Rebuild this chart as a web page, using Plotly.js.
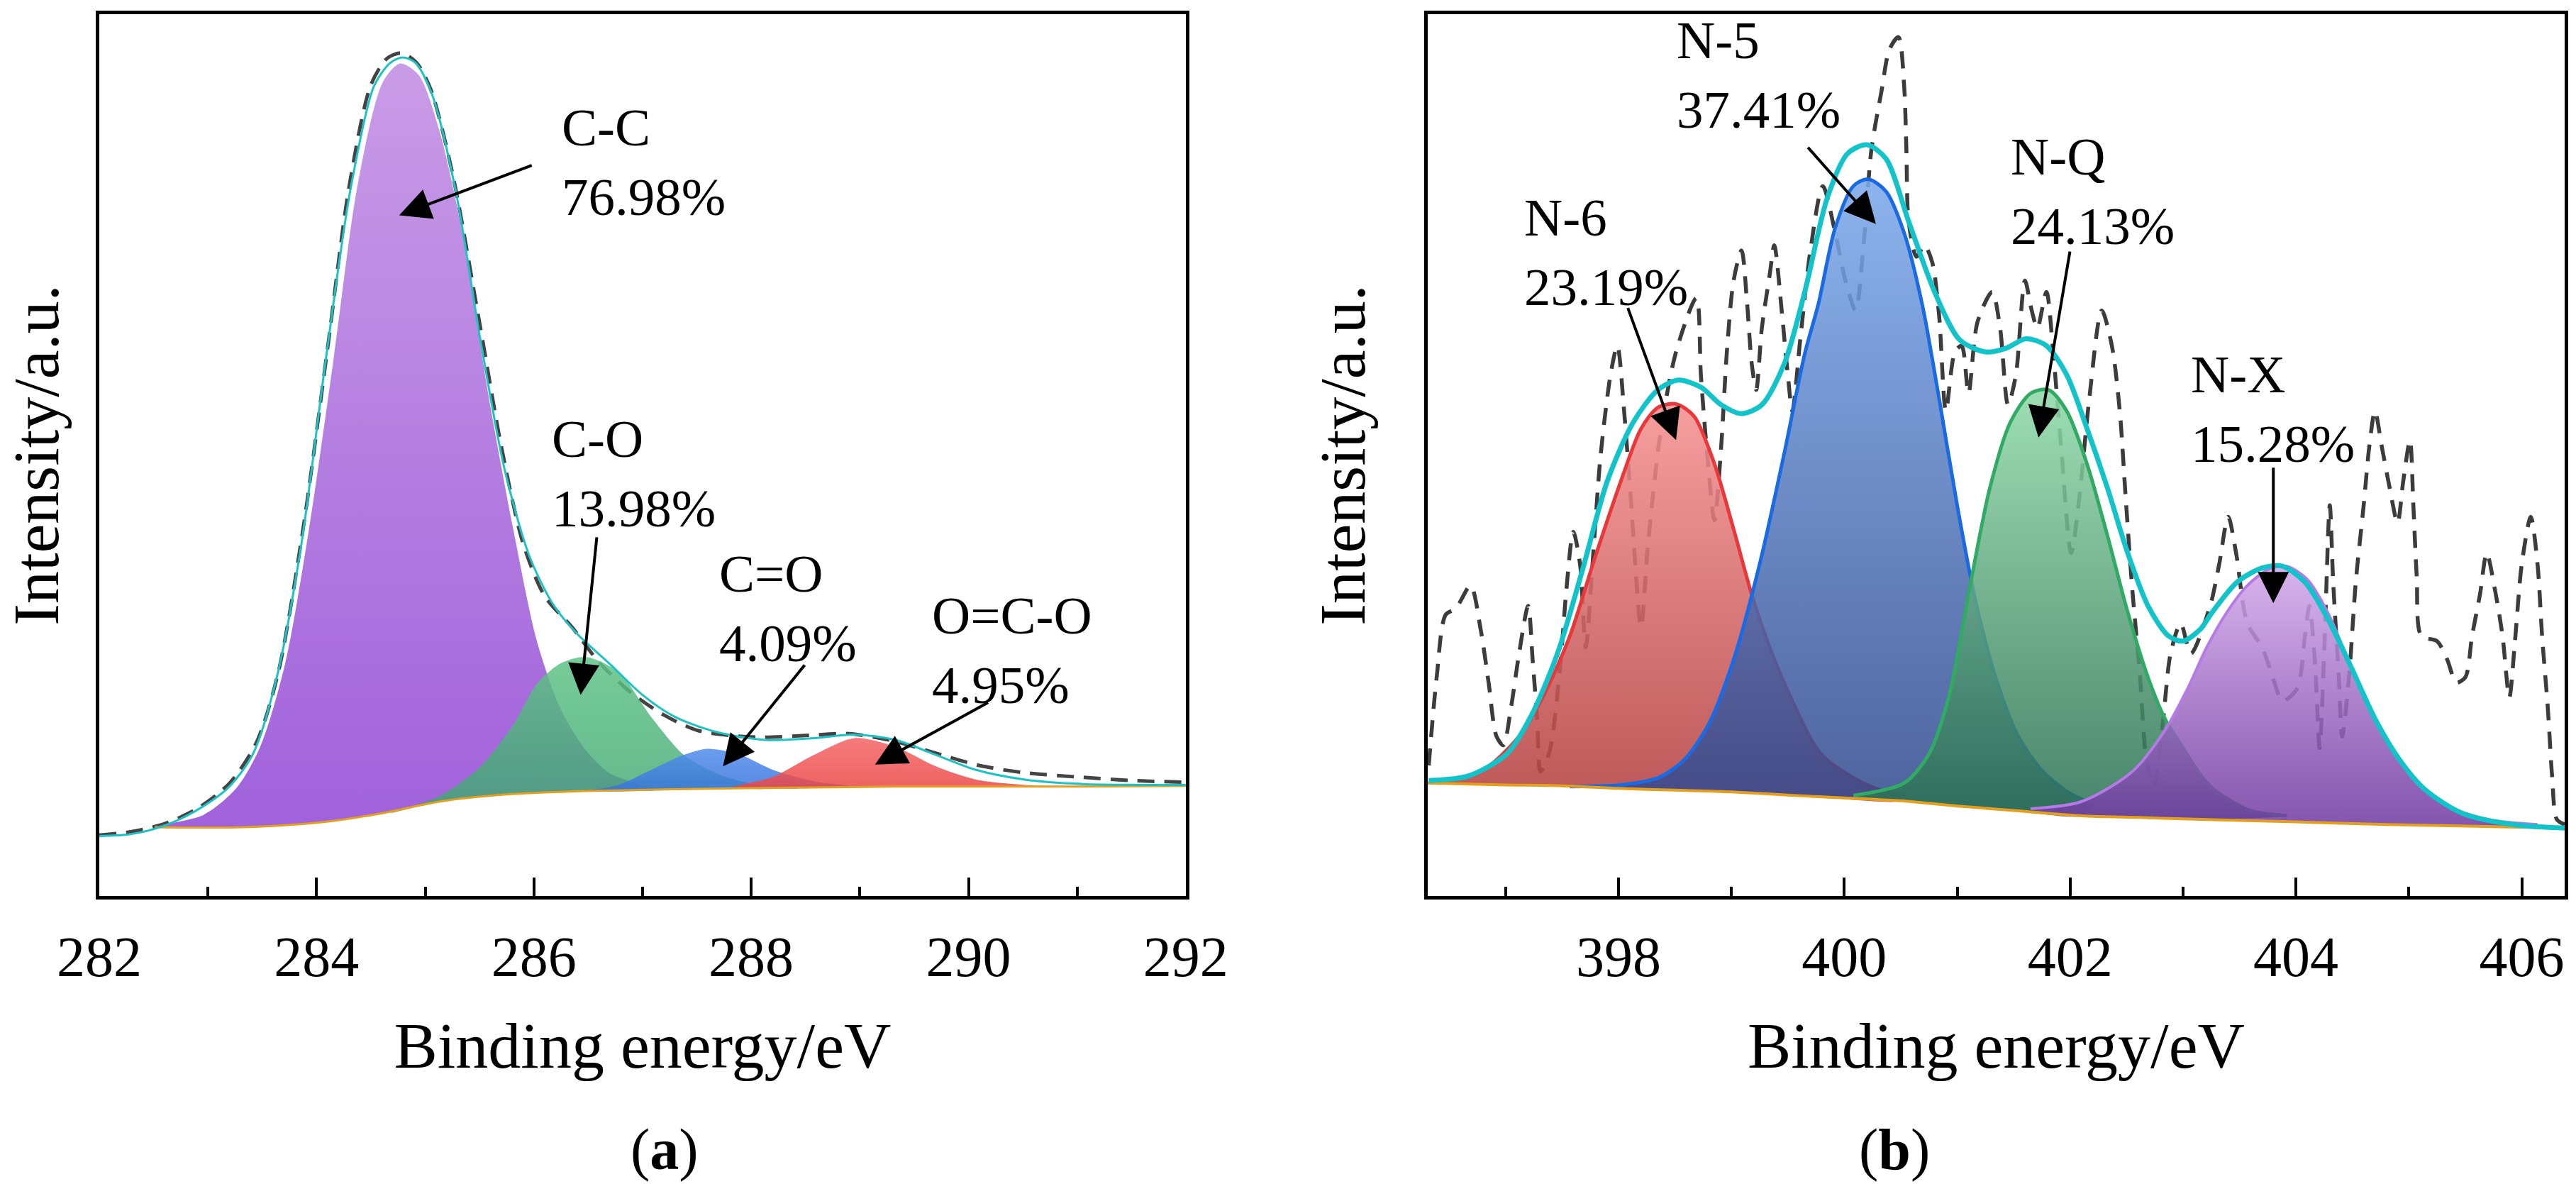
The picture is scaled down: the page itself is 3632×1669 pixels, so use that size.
<!DOCTYPE html>
<html>
<head>
<meta charset="utf-8">
<script src="https://cdn.plot.ly/plotly-3.0.1.min.js"></script>
<style>
  html, body { margin: 0; padding: 0; background: #fff; }
  #chart { width: 3632px; height: 1669px; }
</style>
</head>
<body>
<div id="chart"></div>
<script>
// ---- (a) C 1s ----
var cRawX = [282.0, 282.3, 282.6, 282.9, 283.2, 283.45, 283.65, 283.88, 284.1, 284.3, 284.5, 284.65, 284.78, 284.92, 285.05, 285.25, 285.5, 285.7, 285.9, 286.1, 286.35, 286.6, 286.9, 287.2, 287.5, 287.8, 288.1, 288.5, 288.9, 289.3, 289.7, 290.1, 290.5, 291.0, 291.5, 292.0];
var cRawY = [6.9, 7.3, 8.2, 9.9, 12.8, 17.5, 25.5, 42.0, 62.0, 80.5, 92.0, 95.0, 95.6, 94.5, 91.5, 82.0, 65.0, 51.0, 40.0, 34.0, 30.5, 26.5, 23.0, 20.5, 18.8, 18.2, 18.0, 18.2, 18.4, 17.6, 16.2, 14.8, 14.0, 13.5, 13.1, 12.9];

var cEnvX = [282.0, 282.28, 282.58, 282.88, 283.18, 283.41, 283.63, 283.86, 284.08, 284.31, 284.53, 284.68, 284.79, 284.91, 285.06, 285.28, 285.51, 285.73, 285.96, 286.18, 286.40, 286.70, 287.00, 287.30, 287.68, 288.13, 288.58, 288.95, 289.33, 289.70, 290.07, 290.52, 291.05, 291.57, 292.0];
var cEnvY = [6.8, 7.0, 7.9, 9.6, 12.2, 16.0, 24.6, 39.9, 60.4, 80.0, 91.9, 94.5, 95.1, 94.5, 91.0, 80.0, 62.9, 48.4, 38.5, 33.0, 29.7, 26.3, 22.8, 20.3, 18.6, 17.7, 17.9, 18.3, 17.7, 16.0, 14.3, 13.2, 12.7, 12.6, 12.6];

var cBaseX = [282.51, 283.33, 284.08, 284.61, 285.13, 285.73, 286.48, 287.83, 289.33, 290.82, 292.0];
var cBaseY = [7.8, 7.8, 8.4, 9.4, 10.7, 11.5, 11.9, 12.2, 12.4, 12.4, 12.5];

var ccX = [282.51, 282.96, 283.26, 283.48, 283.71, 283.93, 284.16, 284.38, 284.61, 284.77, 284.94, 285.13, 285.36, 285.58, 285.81, 286.03, 286.25, 286.48, 286.70, 287.0];
var ccY = [7.8, 9.2, 12.2, 16.9, 26.3, 41.6, 61.2, 80.8, 92.3, 94.4, 93.1, 86.8, 74.0, 56.9, 41.6, 28.8, 21.1, 16.5, 13.9, 12.4];

var coX = [284.68, 285.13, 285.51, 285.81, 286.03, 286.25, 286.48, 286.78, 287.08, 287.38, 287.68, 287.98, 288.43];
var coY = [9.4, 11.3, 14.7, 19.4, 24.1, 26.4, 27.1, 25.4, 20.3, 16.0, 13.9, 12.8, 12.2];

var cdX = [286.48, 286.78, 287.08, 287.38, 287.60, 287.90, 288.20, 288.58, 288.95];
var cdY = [11.9, 12.6, 14.3, 16.0, 16.7, 16.0, 14.3, 13.0, 12.4];

var ocX = [287.83, 288.20, 288.58, 288.95, 289.33, 289.70, 290.07, 290.52, 290.82];
var ocY = [12.3, 13.5, 16.0, 17.9, 16.9, 14.7, 13.2, 12.6, 12.4];

// ---- (b) N 1s ----
var nRawX = [396.32, 396.39, 396.47, 396.56, 396.69, 396.78, 396.85, 396.92, 396.98, 397.05, 397.12, 397.20, 397.24, 397.28, 397.31, 397.39, 397.48, 397.54, 397.60, 397.66, 397.71, 397.77, 397.84, 397.93, 397.99, 398.05, 398.11, 398.20, 398.26, 398.37, 398.51, 398.69, 398.73, 398.78, 398.85, 398.91, 398.96, 399.02, 399.09, 399.14, 399.18, 399.22, 399.27, 399.34, 399.38, 399.45, 399.50, 399.54, 399.61, 399.70,
  399.81, 399.92, 400.01, 400.10, 400.17, 400.24, 400.33, 400.40, 400.48, 400.53, 400.55, 400.57, 400.64, 400.71, 400.78, 400.84, 400.90, 400.98, 401.04, 401.10, 401.18, 401.31, 401.38, 401.45, 401.52, 401.60, 401.66, 401.71, 401.79, 401.85, 401.92, 402.01, 402.08, 402.17, 402.28, 402.37, 402.44, 402.49, 402.55, 402.62, 402.67, 402.74, 402.82, 402.89, 402.98, 403.07,
  403.24, 403.32, 403.40, 403.47, 403.57, 403.70, 403.81, 403.88, 404.01, 404.08, 404.12, 404.17, 404.21, 404.25, 404.30, 404.33, 404.38, 404.41, 404.47, 404.53, 404.60, 404.65, 404.70, 404.76, 404.83, 404.90, 404.95, 405.01, 405.04, 405.07, 405.11, 405.25, 405.34, 405.42, 405.50, 405.56, 405.63, 405.69, 405.76, 405.83, 405.89, 405.94, 406.00, 406.08, 406.14, 406.18, 406.23, 406.27, 406.31, 406.38];
var nRawY = [14.8, 24.8, 31.9, 32.6, 35.2, 30.2, 24.2, 18.1, 17.1, 21.5, 27.5, 32.9, 26.8, 20.1, 14.1, 16.4, 25.5, 34.9, 41.3, 37.6, 28.2, 37.6, 49.7, 59.1, 62.4, 55.0, 45.0, 30.5, 39.6, 52.3, 61.7, 67.8, 59.1, 51.0, 42.6, 51.0, 61.7, 69.8, 73.2, 67.1, 60.4, 57.4, 64.4, 70.5, 73.8, 65.8, 59.1, 55.0, 63.1, 73.2,
  80.5, 75.2, 69.8, 66.4, 73.8, 84.6, 91.3, 96.0, 97.4, 91.9, 84.6, 76.5, 72.5, 73.8, 71.8, 65.8, 55.0, 61.7, 62.4, 57.0, 65.1, 68.5, 64.4, 55.7, 59.1, 69.8, 66.4, 64.4, 68.5, 61.7, 51.0, 38.9, 45.0, 56.4, 66.4, 62.4, 55.0, 45.6, 34.9, 24.8, 16.1, 12.4, 19.5, 27.5, 30.9, 27.5,
  32.9, 37.6, 43.0, 38.9, 30.9, 28.2, 24.2, 22.1, 23.5, 29.5, 32.9, 26.2, 16.8, 27.5, 44.3, 35.6, 24.8, 18.1, 24.8, 35.6, 44.3, 51.0, 55.0, 51.0, 46.3, 42.3, 47.0, 51.7, 44.3, 36.2, 29.5, 28.9, 26.8, 24.2, 24.8, 29.5, 34.2, 38.9, 34.9, 29.5, 22.5, 28.9, 37.6, 43.0, 37.6, 29.5, 21.5, 13.4, 8.7, 8.1];

var nEnvX = [396.32, 396.67, 397.01, 397.23, 397.46, 397.68, 397.90, 398.13, 398.35, 398.53, 398.73, 398.91, 399.09, 399.27, 399.47, 399.65, 399.85, 400.03, 400.20, 400.37, 400.57, 400.80, 401.02, 401.25, 401.43, 401.61, 401.79, 401.97, 402.15, 402.33, 402.51, 402.69, 402.87, 403.00, 403.15, 403.26, 403.48, 403.70, 403.88, 404.08, 404.28, 404.48, 404.70, 404.92, 405.14, 405.47, 405.92, 406.38];
var nEnvY = [13.1, 13.6, 16.1, 20.5, 27.5, 36.9, 47.0, 53.7, 57.4, 58.5, 57.7, 55.7, 54.7, 55.7, 60.4, 68.5, 79.2, 84.2, 85.2, 83.6, 76.5, 68.5, 63.1, 61.7, 62.1, 63.2, 62.4, 59.1, 53.0, 46.3, 38.9, 32.9, 29.5, 28.9, 30.2, 32.2, 35.6, 37.2, 37.4, 35.6, 31.5, 26.2, 20.1, 15.4, 12.1, 9.4, 8.1, 7.7];

var nBaseX = [396.31, 397.0, 397.5, 398.0, 398.5, 399.0, 399.7, 400.5, 401.0, 401.5, 402.1, 402.6, 403.1, 404.0, 404.8, 405.6, 406.38];
var nBaseY = [12.8, 12.6, 12.5, 12.2, 12.0, 11.8, 11.3, 10.8, 10.2, 9.7, 9.1, 8.9, 8.7, 8.4, 8.1, 7.9, 7.7];

var n6X = [396.32, 396.78, 397.12, 397.34, 397.57, 397.79, 398.02, 398.20, 398.35, 398.51, 398.67, 398.85, 399.02, 399.18, 399.36, 399.54, 399.74, 399.85, 400.08, 400.30, 400.53];
var n6Y = [12.9, 14.1, 18.1, 22.8, 29.5, 38.3, 47.0, 53.0, 55.4, 55.8, 54.4, 49.0, 41.6, 34.2, 27.5, 22.1, 17.0, 15.4, 13.4, 12.1, 11.4];

var n5X = [397.57, 398.02, 398.35, 398.58, 398.80, 399.02, 399.25, 399.47, 399.65, 399.77, 399.92, 400.08, 400.21, 400.37, 400.53, 400.69, 400.84, 401.00, 401.16, 401.34, 401.54, 401.76, 401.99, 402.21];
var n5Y = [12.4, 12.6, 13.4, 15.4, 19.5, 26.8, 37.6, 50.3, 61.5, 67.1, 75.8, 80.5, 81.3, 79.9, 75.2, 67.1, 56.4, 44.3, 33.6, 24.8, 18.1, 14.1, 11.7, 10.4];

var nqX = [400.08, 400.53, 400.75, 400.93, 401.11, 401.29, 401.47, 401.65, 401.81, 401.97, 402.15, 402.33, 402.51, 402.69, 402.84, 403.00, 403.15, 403.26, 403.59, 403.92];
var nqY = [11.4, 12.8, 16.1, 22.8, 34.9, 46.3, 53.7, 57.0, 57.4, 55.0, 49.0, 40.9, 32.2, 24.8, 20.1, 16.8, 13.8, 12.2, 9.7, 9.1];

var nxX = [401.65, 402.10, 402.55, 402.84, 403.04, 403.21, 403.39, 403.57, 403.75, 403.92, 404.10, 404.28, 404.45, 404.63, 404.85, 405.07, 405.36, 405.69, 406.14];
var nxY = [9.9, 10.7, 14.1, 18.8, 23.5, 28.2, 32.2, 35.2, 37.0, 37.4, 35.9, 32.2, 27.2, 22.1, 16.8, 12.8, 10.1, 8.7, 8.1];

// peak labels and arrows (text at left edge, arrow from tail to head)
var labelsA = [
    {text: 'C-C<br>76.98%', x: 286.24, y: 83.2, tail: [285.99, 82.9], head: [284.76, 77.2]},
    {text: 'C-O<br>13.98%', x: 286.15, y: 47.9, tail: [286.58, 40.8], head: [286.43, 22.8]},
    {text: 'C=O<br>4.09%', x: 287.69, y: 32.6, tail: [288.50, 26.3], head: [287.74, 14.7]},
    {text: 'O=C-O<br>4.95%', x: 289.65, y: 27.9, tail: [290.19, 22.0], head: [289.14, 14.9]}
];
var labelsB = [
    {text: 'N-6<br>23.19%', x: 397.15, y: 73.0, tail: [398.08, 66.8], head: [398.51, 51.7]},
    {text: 'N-5<br>37.41%', x: 398.50, y: 93.1, tail: [399.67, 85.0], head: [400.28, 76.2]},
    {text: 'N-Q<br>24.13%', x: 401.46, y: 79.9, tail: [402.00, 73.2], head: [401.72, 52.0]},
    {text: 'N-X<br>15.28%', x: 403.06, y: 55.2, tail: [403.80, 48.7], head: [403.80, 33.2]}
];

var FONT = '"Liberation Serif", "Times New Roman", serif';

// closed outline: peak curve, then back along the baseline under it
function closed(cx, cy, bx, by) {
    var lo = cx[0], hi = cx[cx.length - 1];
    var xs = cx.slice(), ys = cy.slice();
    for (var i = bx.length - 1; i >= 0; i--) {
        if (bx[i] > lo && bx[i] < hi) { xs.push(bx[i]); ys.push(by[i]); }
    }
    xs.push(cx[0]); ys.push(cy[0]);
    return [xs, ys];
}

function peakFill(cx, cy, bx, by, dark, light, xa, ya) {
    var p = closed(cx, cy, bx, by);
    return {
        x: p[0], y: p[1], xaxis: xa, yaxis: ya,
        type: 'scatter', mode: 'lines', fill: 'toself',
        line: {width: 0, shape: 'spline', smoothing: 0.8},
        fillgradient: {type: 'vertical', colorscale: [[0, dark], [1, light]]},
        hoverinfo: 'skip', showlegend: false
    };
}

function curve(x, y, color, width, xa, ya, dash) {
    return {
        x: x, y: y, xaxis: xa, yaxis: ya,
        type: 'scatter', mode: 'lines',
        line: {color: color, width: width, shape: 'spline', smoothing: 0.8, dash: dash || 'solid'},
        hoverinfo: 'skip', showlegend: false
    };
}

var data = [
    // (a)
    curve(cRawX, cRawY, '#444', 5, 'x', 'y', '24px,14px'),
    peakFill(ccX, ccY, cBaseX, cBaseY, 'rgba(150,80,215,0.9)', 'rgba(195,145,228,0.9)', 'x', 'y'),
    peakFill(coX, coY, cBaseX, cBaseY, 'rgba(60,165,110,0.8)', 'rgba(95,195,135,0.85)', 'x', 'y'),
    peakFill(cdX, cdY, cBaseX, cBaseY, 'rgba(55,115,220,0.85)', 'rgba(80,140,235,0.85)', 'x', 'y'),
    peakFill(ocX, ocY, cBaseX, cBaseY, 'rgba(235,70,70,0.85)', 'rgba(245,100,100,0.85)', 'x', 'y'),
    curve(cBaseX, cBaseY, '#e3a020', 3, 'x', 'y'),
    curve(cEnvX, cEnvY, '#1ec2c4', 3, 'x', 'y'),

    // (b)
    curve(nRawX, nRawY, '#3c3c3c', 5.5, 'x2', 'y2', '24px,16px'),
    peakFill(n6X, n6Y, nBaseX, nBaseY, 'rgba(180,65,65,0.88)', 'rgba(245,145,145,0.88)', 'x2', 'y2'),
    curve(n6X, n6Y, '#e8383a', 5, 'x2', 'y2'),
    peakFill(n5X, n5Y, nBaseX, nBaseY, 'rgba(45,70,140,0.85)', 'rgba(125,170,235,0.88)', 'x2', 'y2'),
    curve(n5X, n5Y, '#1a6be3', 5, 'x2', 'y2'),
    peakFill(nqX, nqY, nBaseX, nBaseY, 'rgba(40,110,80,0.85)', 'rgba(145,218,170,0.88)', 'x2', 'y2'),
    curve(nqX, nqY, '#31aa64', 5, 'x2', 'y2'),
    peakFill(nxX, nxY, nBaseX, nBaseY, 'rgba(110,55,160,0.85)', 'rgba(212,170,235,0.88)', 'x2', 'y2'),
    curve(nxX, nxY, '#b57ae6', 4, 'x2', 'y2'),
    curve(nBaseX, nBaseY, '#e3a020', 4, 'x2', 'y2'),
    curve(nEnvX, nEnvY, '#12c3c9', 7, 'x2', 'y2')
];

function xAxis(domain, range, anchor) {
    return {
        domain: domain, range: range, anchor: anchor,
        showline: true, mirror: true, linecolor: '#000', linewidth: 5,
        showgrid: false, zeroline: false,
        tick0: 0, dtick: 2, ticks: 'inside', ticklen: 26, tickwidth: 4, tickcolor: '#000',
        minor: {dtick: 1, ticks: 'inside', ticklen: 13, tickwidth: 4, tickcolor: '#000'},
        ticklabelstandoff: 12,
        tickfont: {family: FONT, size: 80, color: '#000'},
        title: {text: 'Binding energy/eV', standoff: 50, font: {family: FONT, size: 92, color: '#000'}}
    };
}
function yAxis(anchor, standoff) {
    return {
        domain: [0, 1], range: [0, 100], anchor: anchor,
        showline: true, mirror: true, linecolor: '#000', linewidth: 5,
        showgrid: false, zeroline: false, ticks: '', showticklabels: false,
        title: {text: 'Intensity/a.u.', standoff: standoff, font: {family: FONT, size: 92, color: '#000'}}
    };
}

var annotations = [];
function addLabels(list, xr, yr) {
    list.forEach(function(l) {
        annotations.push({
            xref: xr, yref: yr, x: l.x, y: l.y, text: l.text,
            showarrow: false, xanchor: 'left', yanchor: 'middle', align: 'left',
            font: {family: FONT, size: 75, color: '#000'}
        });
        annotations.push({
            xref: xr, yref: yr, x: l.head[0], y: l.head[1],
            axref: xr, ayref: yr, ax: l.tail[0], ay: l.tail[1],
            text: '', showarrow: true, arrowhead: 2, arrowsize: 2.2, arrowwidth: 4,
            arrowcolor: '#000', standoff: 0, startstandoff: 0
        });
    });
}
addLabels(labelsA, 'x', 'y');
addLabels(labelsB, 'x2', 'y2');

annotations.push({xref: 'paper', yref: 'paper', x: 0.215, y: -0.288, yanchor: 'middle',
    text: '(<b>a</b>)', showarrow: false, font: {family: FONT, size: 82, color: '#000'}});
annotations.push({xref: 'paper', yref: 'paper', x: 0.743, y: -0.288, yanchor: 'middle',
    text: '(<b>b</b>)', showarrow: false, font: {family: FONT, size: 82, color: '#000'}});

var layout = {
    width: 3632, height: 1669,
    margin: {l: 140, r: 16, t: 20, b: 406},
    paper_bgcolor: '#fff', plot_bgcolor: '#fff',
    xaxis: xAxis([0, 0.4407], [282, 292], 'y'),
    yaxis: yAxis('x', 36),
    xaxis2: xAxis([0.5388, 1], [396.31, 406.38], 'y2'),
    yaxis2: yAxis('x2', 54),
    annotations: annotations
};

Plotly.newPlot('chart', data, layout, {displayModeBar: false, staticPlot: true});
</script>
</body>
</html>
